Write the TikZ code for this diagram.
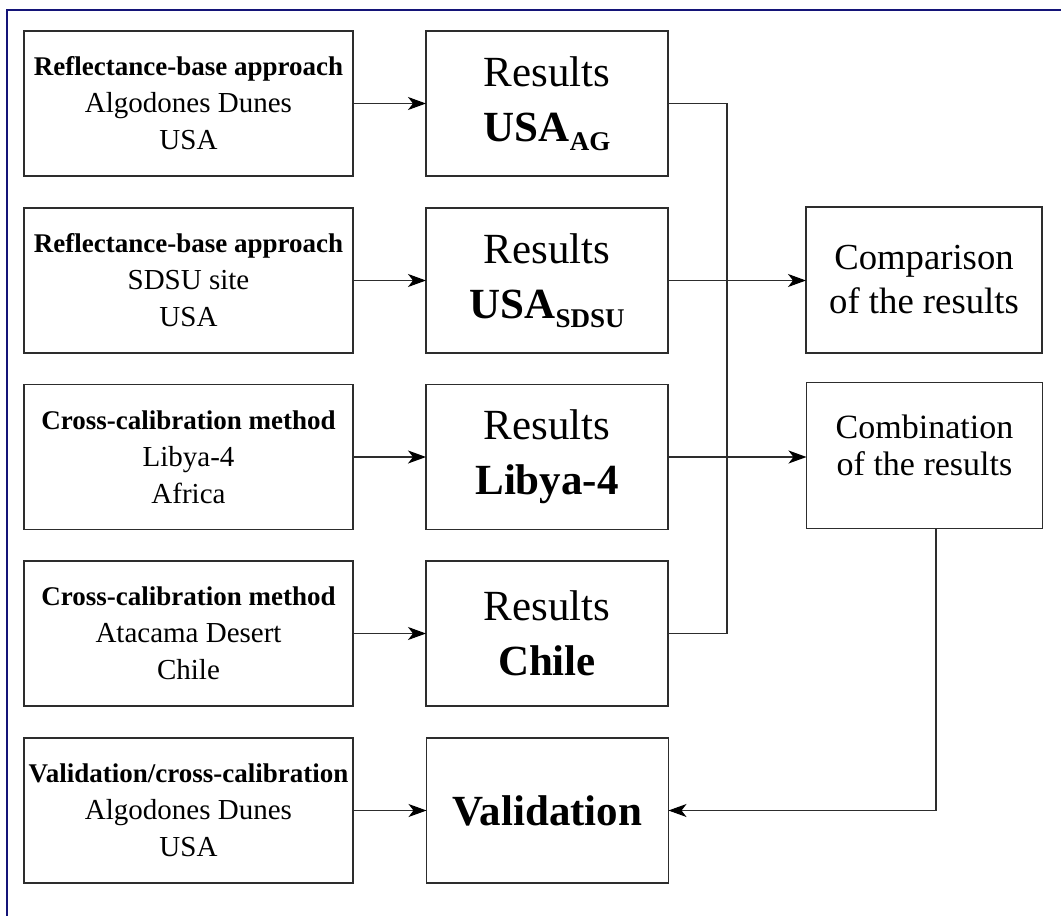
\documentclass[tikz,border=0pt]{standalone}
\usepackage{fontspec}
\setmainfont{Liberation Serif}
\usetikzlibrary{arrows.meta}

\definecolor{framenavy}{RGB}{20,20,120}
\definecolor{boxline}{RGB}{45,45,45}

\newcommand{\fsz}[2]{\fontsize{#1}{#2}\selectfont}

\begin{document}
\begin{tikzpicture}[x=1pt,y=-1pt,
  every node/.style={inner sep=0pt, outer sep=0pt},
  srcbox/.style={draw=boxline, line width=1.3pt, minimum width=329pt,
    minimum height=145pt, align=center, font=\fsz{29}{37}},
  resbox/.style={draw=boxline, line width=1.3pt, minimum width=242pt,
    minimum height=145pt, align=center, font=\fsz{43}{55}},
  outbox/.style={draw=boxline, line width=1.3pt, minimum width=236pt,
    minimum height=146pt, align=center},
  link/.style={draw=boxline, line width=1.1pt},
  arr/.style={link, -{Stealth[length=18pt,width=13pt,inset=5pt,color=black]}},
]
\useasboundingbox (0,0) rectangle (1061,916);

% page frame (top and left edges)
\draw[framenavy, line width=1.6pt] (1061,10) -- (7,10) -- (7,916);

% source boxes
\node[srcbox] (s1) at (188.5,103.5)
  {{\bfseries\fsz{27}{37}Reflectance-base approach}\\Algodones Dunes\\USA};
\node[srcbox] (s2) at (188.5,280.5)
  {{\bfseries\fsz{27}{37}Reflectance-base approach}\\SDSU site\\USA};
\node[srcbox] (s3) at (188.5,457)
  {{\bfseries\fsz{27}{37}Cross-calibration method}\\Libya-4\\Africa};
\node[srcbox] (s4) at (188.5,633.5)
  {{\bfseries\fsz{27}{37}Cross-calibration method}\\Atacama Desert\\Chile};
\node[srcbox] (s5) at (188.5,810.5)
  {{\bfseries\fsz{27}{37}Validation/cross-calibration}\\Algodones Dunes\\USA};

% result boxes
\node[resbox] (r1) at (547,103.5)
  {Results\\{\bfseries USA\raisebox{-9pt}{\fsz{27}{27}AG}}};
\node[resbox] (r2) at (547,280.5)
  {Results\\{\bfseries USA\raisebox{-9pt}{\fsz{27}{27}SDSU}}};
\node[resbox] (r3) at (547,457)
  {Results\\{\bfseries Libya-4}};
\node[resbox] (r4) at (547,633.5)
  {Results\\{\bfseries Chile}};
\node[resbox] (r5) at (547.5,810.5)
  {\bfseries Validation};

% output boxes
\node[outbox, font=\fsz{36.7}{44}] (cmp) at (924,280)
  {Comparison\\of the results};
\node[outbox, font=\fsz{34}{37}, text depth=20pt] (cmb) at (924.5,455.5)
  {Combination\\of the results};

% connectors
\draw[arr] (s1) -- (r1);
\draw[arr] (s2) -- (r2);
\draw[arr] (s3) -- (r3);
\draw[arr] (s4) -- (r4);
\draw[arr] (s5) -- (r5);

\coordinate (bus) at (727,0);
\draw[link] (r1.east) -| (bus |- r4.east) -- (r4.east);
\draw[arr] (r2.east) -- (r2.east -| cmp.west);
\draw[arr] (r3.east) -- (r3.east -| cmb.west);

\coordinate (drop) at (936,0);
\draw[arr] (drop |- cmb.south) |- (r5.east);
\end{tikzpicture}
\end{document}
